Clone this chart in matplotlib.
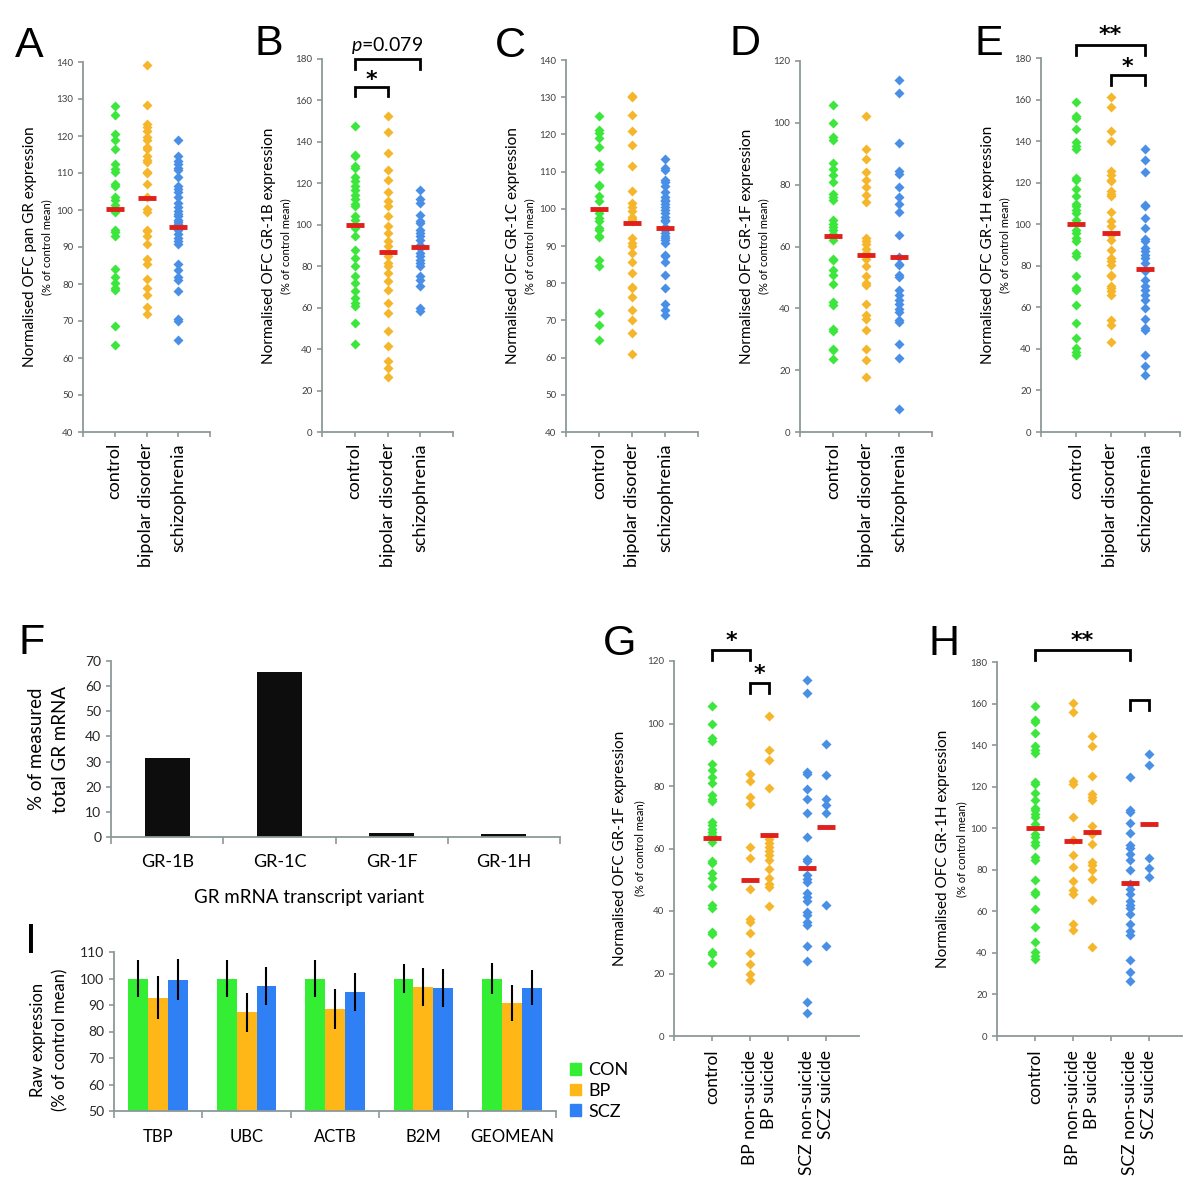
import numpy as np
import matplotlib
matplotlib.use('Agg')
import matplotlib.pyplot as plt
from matplotlib.patches import Patch

W, H = 1200, 1183
plt.rcParams['font.family'] = ['Lato', 'DejaVu Sans']
plt.rcParams['mathtext.fontset'] = 'custom'
plt.rcParams['mathtext.it'] = 'Lato:italic'
plt.rcParams['mathtext.rm'] = 'Lato'

GREEN = '#3de63d'
ORANGE = '#f5b62c'
BLUE = '#4a8fe6'
RED = '#e0201b'
AXC = '#8c9898'
BAR_G, BAR_O, BAR_B = '#33ee33', '#ffb718', '#2f80f5'

groups3 = ['control', 'bipolar disorder', 'schizophrenia']
groups5 = ['control', 'BP non-suicide', 'BP suicide', 'SCZ non-suicide', 'SCZ suicide']

# --- A: pan GR
panA_con = [128.1, 125.6, 120.6, 118.8, 116.4, 112.3, 111.2, 110.3, 107.1, 106.4, 103.5, 102.6,
            101.3, 99.5, 94.7, 94.1, 93.0, 84.1, 81.9, 80.3, 79.0, 78.3, 68.6, 63.4]
panA_bp = [139.1, 128.5, 123.2, 122.4, 121.3, 119.7, 118.8, 117.0, 116.6, 114.6, 113.6, 113.0,
           110.3, 110.0, 107.1, 103.5, 100.4, 99.5, 94.7, 94.2, 92.9, 90.9, 86.8, 85.5, 81.4,
           79.0, 76.9, 73.8, 72.0]
panA_scz = [118.8, 114.5, 113.2, 112.3, 111.4, 110.7, 108.9, 106.5, 105.8, 105.0, 103.5, 101.9,
            100.8, 99.6, 99.0, 98.3, 97.2, 96.8, 96.1, 94.5, 93.6, 92.3, 91.6, 90.9, 85.5, 83.7,
            81.9, 81.0, 78.0, 70.6, 70.0, 64.8]
panA_means = [100.2, 103.3, 95.3]

# --- B: GR-1B
panB_con = [147.5, 133.8, 133.0, 128.2, 127.4, 122.9, 121.0, 118.9, 116.9, 114.5, 112.4, 110.2,
            108.9, 104.4, 102.5, 98.4, 94.4, 88.0, 84.0, 79.9, 75.1, 71.9, 67.9, 64.7, 62.2,
            60.6, 52.6, 42.5]
panB_bp = [152.6, 144.6, 134.6, 126.6, 121.6, 115.6, 111.3, 108.9, 104.1, 99.2, 96.0, 92.0,
           89.6, 86.4, 84.8, 81.6, 79.9, 76.7, 72.7, 68.7, 62.2, 57.4, 48.6, 41.3, 34.1, 30.9, 26.5]
panB_scz = [116.9, 112.4, 110.5, 104.9, 101.7, 100.9, 97.6, 96.0, 94.4, 92.8, 90.4, 88.8, 86.4,
            84.8, 83.2, 81.6, 79.9, 75.1, 73.5, 70.3, 59.8, 58.2]
panB_means = [100.0, 86.8, 89.3]

# --- C: GR-1C
panC_con = [125.0, 121.2, 120.5, 119.0, 116.7, 112.1, 110.6, 106.4, 106.0, 103.5, 102.0, 98.8,
            97.5, 96.6, 94.8, 94.3, 92.7, 92.4, 86.3, 84.5, 72.1, 68.8, 64.8]
panC_bp = [130.3, 130.0, 125.2, 120.8, 117.2, 111.4, 104.8, 101.5, 100.6, 99.3, 97.9, 97.2,
           96.6, 92.1, 90.8, 89.9, 88.1, 85.8, 82.7, 79.1, 78.7, 76.2, 72.7, 70.2, 66.6, 61.0]
panC_scz = [113.4, 110.9, 110.3, 107.8, 107.1, 106.0, 104.4, 103.3, 102.4, 102.0, 101.3, 100.6,
            99.7, 98.8, 97.9, 97.0, 96.6, 95.2, 94.3, 93.4, 92.7, 92.1, 91.5, 90.8, 87.6, 87.2,
            85.8, 82.3, 78.7, 74.5, 72.9, 71.5]
panC_means = [100.0, 96.1, 94.9]

# --- D: GR-1F
panD_con = [105.7, 99.9, 95.4, 94.3, 87.1, 85.2, 83.0, 80.9, 77.1, 76.0, 75.1, 68.5, 67.4, 66.3,
            65.2, 64.2, 62.0, 56.1, 55.5, 52.3, 50.7, 48.0, 42.0, 41.0, 33.4, 32.7, 27.0, 26.4, 23.5]
panD_bp = [102.2, 91.4, 88.4, 84.1, 81.6, 79.4, 76.6, 74.4, 62.9, 61.8, 60.7, 59.3, 57.9, 56.1,
           53.6, 50.3, 48.3, 47.4, 41.5, 37.7, 36.4, 33.1, 26.7, 23.2, 17.8]
panD_scz = [113.7, 109.7, 93.5, 84.3, 83.6, 79.2, 76.0, 73.9, 71.2, 63.8, 56.6, 54.4, 53.9, 50.7,
            50.1, 45.8, 44.2, 42.6, 41.3, 39.9, 38.8, 36.1, 35.6, 28.6, 24.0, 7.5]
panD_means = [63.4, 57.1, 56.6]

# --- E: GR-1H
panE_con = [158.7, 152.3, 151.1, 146.0, 139.4, 137.8, 136.2, 122.3, 121.5, 117.0, 113.5, 109.9,
            108.6, 106.7, 105.4, 102.2, 97.4, 95.8, 93.4, 91.8, 86.2, 84.9, 74.9, 69.3, 68.5,
            61.3, 52.5, 45.2, 40.4, 38.3, 37.2]
panE_bp = [161.1, 156.4, 144.7, 139.9, 125.5, 123.9, 121.5, 120.6, 115.8, 114.7, 113.5, 105.7,
           101.4, 99.0, 95.0, 92.6, 87.8, 83.7, 82.1, 80.5, 75.7, 74.9, 70.1, 69.3, 67.7, 66.1,
           54.1, 51.7, 43.3]
panE_scz = [136.2, 130.8, 125.1, 109.4, 108.6, 103.0, 98.2, 92.9, 91.8, 88.6, 87.0, 85.4, 83.7,
            81.3, 77.3, 73.3, 70.1, 68.5, 66.1, 63.7, 59.7, 54.4, 50.1, 48.9, 37.2, 31.6, 27.3]
panE_means = [100.0, 96.0, 78.3]

# --- F: share of each variant
F_variants = ['GR-1B', 'GR-1C', 'GR-1F', 'GR-1H']
F_share = [31.6, 65.5, 1.6, 1.3]

# --- G: GR-1F split by suicide
panG_bp_non = [83.9, 81.6, 76.5, 74.3, 60.5, 57.0, 47.1, 37.5, 36.5, 33.0, 26.7, 23.1, 19.7, 17.8]
panG_bp_sui = [102.3, 91.4, 88.2, 79.4, 63.1, 61.8, 60.5, 59.1, 57.8, 56.2, 53.5, 50.7, 48.7,
               47.7, 41.5]
panG_scz_non = [113.8, 109.8, 84.5, 83.7, 79.1, 75.9, 71.4, 63.7, 56.7, 56.0, 51.4, 50.3, 49.3,
                45.8, 44.5, 43.1, 39.7, 38.6, 36.5, 35.6, 28.7, 24.0, 10.9, 7.4]
panG_scz_sui = [93.3, 83.6, 75.9, 74.0, 71.4, 41.8, 28.7]
panG_means = [63.4, 50.0, 64.2, 53.9, 66.9]

# --- H: GR-1H split by suicide
panH_bp_non = [160.3, 155.9, 122.6, 121.1, 105.4, 94.5, 87.0, 81.3, 74.6, 70.1, 68.2, 53.7, 51.2]
panH_bp_sui = [144.4, 139.4, 125.1, 116.3, 115.0, 113.4, 100.9, 97.4, 92.2, 83.7, 82.5, 80.1,
               75.7, 65.6, 42.8]
panH_scz_non = [124.7, 108.6, 107.8, 102.7, 97.7, 91.8, 90.6, 87.8, 84.5, 80.1, 73.3, 70.9, 68.2,
                65.0, 62.9, 61.8, 58.9, 53.7, 50.5, 48.5, 36.4, 30.8, 26.5]
panH_scz_sui = [135.9, 130.3, 85.7, 81.0, 76.5]
panH_means = [100.0, 93.8, 98.4, 73.4, 101.9]

# --- I: reference genes
I_genes = ['TBP', 'UBC', 'ACTB', 'B2M', 'GEOMEAN']
I_groups = ['CON', 'BP', 'SCZ']
I_con = [100, 100, 100, 100, 100]
I_bp = [92.8, 87.2, 88.5, 96.8, 90.8]
I_scz = [99.6, 97.2, 94.9, 96.3, 96.6]
I_con_err = [6.9, 7.0, 7.0, 5.4, 5.9]
I_bp_err = [8.1, 7.5, 7.5, 7.1, 6.8]
I_scz_err = [7.8, 7.3, 7.0, 7.2, 6.7]

fig = plt.figure(figsize=(W / 100, H / 100), dpi=100)


def add_ax(x0, y0, x1, y1):
    return fig.add_axes([x0 / W, 1 - y1 / H, (x1 - x0) / W, (y1 - y0) / H])


def style(ax, fs=7, lc='#404040'):
    for s in ['top', 'right']:
        ax.spines[s].set_visible(False)
    for s in ['left', 'bottom']:
        ax.spines[s].set_color(AXC)
        ax.spines[s].set_linewidth(1.3)
    ax.tick_params(colors=AXC, labelcolor=lc, labelsize=fs, length=3.5, width=1.2)
    ax.xaxis.remove_overlapping_locs = False


def letter(x, y, s):
    fig.text(x / W, 1 - y / H, s, fontsize=31, family='Liberation Sans',
             ha='left', va='baseline')


def ylabels(ax_x, yc, main, sub=None, dx_main=53, dx_sub=36, fs=11, fs_sub=8):
    fig.text((ax_x - dx_main) / W, 1 - yc / H, main, rotation=90, ha='center',
             va='center', fontsize=fs)
    if sub:
        fig.text((ax_x - dx_sub) / W, 1 - yc / H, sub, rotation=90, ha='center',
                 va='center', fontsize=fs_sub)


def bracket(ax, x1, x2, ytop, yleg, txt=None, ty=None, fs=13, star=True):
    ax.plot([x1, x1, x2, x2], [yleg, ytop, ytop, yleg], color='black', lw=2,
            clip_on=False, solid_joinstyle='miter')
    if txt:
        kw = dict(family='DejaVu Sans', fontsize=16, fontweight='bold') if star else dict(fontsize=fs)
        ax.text((x1 + x2) / 2, ty, txt, ha='center', va='center', clip_on=False, **kw)


def dot_panel(box, xs, series, means, colors, ylim, ystep, labels, xmax, label_fs=13, pad=8):
    ax = add_ax(*box)
    style(ax)
    for x, vals, c in zip(xs, series, colors):
        ax.plot([x] * len(vals), vals, 'D', color=c, ms=5.6, mec='none', ls='none',
                clip_on=False, zorder=2)
    ax.plot(xs, means, '_', color=RED, ms=13, mew=3.5, ls='none', zorder=3)
    ax.set_ylim(*ylim)
    ax.set_yticks(np.arange(ylim[0], ylim[1] + 1, ystep))
    ax.set_xlim(0, xmax)
    ax.set_xticks(range(0, 5))
    ax.set_xticklabels([])
    ax.set_xticks(xs, labels, minor=True)
    ax.tick_params(axis='x', which='minor', length=0, labelrotation=90,
                   labelsize=label_fs, labelcolor='black', pad=pad)
    return ax


cols3 = [GREEN, ORANGE, BLUE]
cols5 = [GREEN, ORANGE, ORANGE, BLUE, BLUE]
x3 = [1, 2, 3]
x5 = [1, 2, 2.5, 3.5, 4]
sub = '(% of control mean)'

axA = dot_panel((83, 62, 210, 432), x3, [panA_con, panA_bp, panA_scz], panA_means, cols3,
                (40, 140), 10, groups3, 4)
ylabels(83, 247, 'Normalised OFC pan GR expression', sub)
letter(15, 57, 'A')

axB = dot_panel((322, 59, 453, 432), x3, [panB_con, panB_bp, panB_scz], panB_means, cols3,
                (0, 180), 20, groups3, 4)
ylabels(322, 246, 'Normalised OFC GR-1B expression', sub)
letter(255, 55, 'B')
bracket(axB, 1, 2, 166.5, 162.0, '*', 170.0)
bracket(axB, 1, 3, 180.0, 175.2, r'$\mathit{p}$=0.079', 186.5, fs=14, star=False)

axC = dot_panel((566, 60, 698, 432), x3, [panC_con, panC_bp, panC_scz], panC_means, cols3,
                (40, 140), 10, groups3, 4)
ylabels(566, 246, 'Normalised OFC GR-1C expression', sub)
letter(495, 57, 'C')

axD = dot_panel((800, 61, 932, 432), x3, [panD_con, panD_bp, panD_scz], panD_means, cols3,
                (0, 120), 20, groups3, 4)
ylabels(800, 246, 'Normalised OFC GR-1F expression', sub)
letter(730, 55, 'D')

axE = dot_panel((1041, 58, 1180, 432), x3, [panE_con, panE_bp, panE_scz], panE_means, cols3,
                (0, 180), 20, groups3, 4)
ylabels(1041, 245, 'Normalised OFC GR-1H expression', sub)
letter(975, 55, 'E')
bracket(axE, 1, 3, 186.1, 181.3, '**', 191.0)
bracket(axE, 2, 3, 172.0, 167.2, '*', 175.5)

# --- F
axF = add_ax(111, 661, 560, 837)
style(axF, fs=10, lc='#262626')
fx = np.arange(len(F_variants)) + 0.5
axF.bar(fx, F_share, width=0.40, color='#0d0d0d')
axF.set_ylim(0, 70)
axF.set_yticks(range(0, 71, 10))
axF.set_xlim(0, 4)
axF.set_xticks(range(0, 5))
axF.set_xticklabels([])
axF.set_xticks(fx, F_variants, minor=True)
axF.tick_params(axis='x', which='minor', length=0, labelsize=13, labelcolor='black', pad=12)
axF.tick_params(axis='x', which='major', length=5)
fig.text(36 / W, 1 - 749 / H, '% of measured', rotation=90, ha='center', va='center', fontsize=13.5)
fig.text(61 / W, 1 - 749 / H, 'total GR mRNA', rotation=90, ha='center', va='center', fontsize=13.5)
fig.text(309 / W, 1 - 903 / H, 'GR mRNA transcript variant', ha='center', va='baseline', fontsize=13.5)
letter(19, 654, 'F')

# --- G
axG = dot_panel((674, 661, 859, 1036), x5,
                [panD_con, panG_bp_non, panG_bp_sui, panG_scz_non, panG_scz_sui],
                panG_means, cols5, (0, 120), 20, groups5, 4.86, label_fs=12.5, pad=10)
ylabels(674, 848, 'Normalised OFC GR-1F expression', sub, dx_main=54, dx_sub=34)
letter(603, 655, 'G')
bracket(axG, 1, 2, 123.4, 120.2, '*', 126.3)
bracket(axG, 2, 2.5, 113.1, 109.8, '*', 115.8)

# --- H
axH = dot_panel((997, 662, 1182, 1036), x5,
                [panE_con, panH_bp_non, panH_bp_sui, panH_scz_non, panH_scz_sui],
                panH_means, cols5, (0, 180), 20, groups5, 4.86, label_fs=12.5, pad=10)
ylabels(997, 849, 'Normalised OFC GR-1H expression', sub, dx_main=54, dx_sub=35)
letter(928, 655, 'H')
bracket(axH, 1, 3.5, 185.6, 180.8, '**', 190.0)
bracket(axH, 3.5, 4, 161.6, 156.7)

# --- I
axI = add_ax(114, 952, 556, 1111)
style(axI, fs=10, lc='#262626')
ix = np.arange(len(I_genes)) + 0.5
bw = 0.225
for off, vals, errs, c in [(-bw, I_con, I_con_err, BAR_G), (0, I_bp, I_bp_err, BAR_O),
                            (bw, I_scz, I_scz_err, BAR_B)]:
    axI.bar(ix + off, np.array(vals) - 50, bottom=50, width=bw, color=c)
    axI.errorbar(ix + off, vals, yerr=errs, fmt='none', ecolor='black', elinewidth=1.5, capsize=0)
axI.set_ylim(50, 110)
axI.set_yticks(range(50, 111, 10))
axI.set_xlim(0, 5)
axI.set_xticks(range(0, 6))
axI.set_xticklabels([])
axI.set_xticks(ix, I_genes, minor=True)
axI.tick_params(axis='x', which='minor', length=0, labelsize=12, labelcolor='black', pad=13)
axI.tick_params(axis='x', which='major', length=5)
fig.text(38 / W, 1 - 1040 / H, 'Raw expression', rotation=90, ha='center', va='center', fontsize=12)
fig.text(60 / W, 1 - 1040 / H, '(% of control mean)', rotation=90, ha='center', va='center', fontsize=12)
letter(25, 953, 'I')

handles = [Patch(color=c, label=l) for c, l in zip([BAR_G, BAR_O, BAR_B], I_groups)]
fig.legend(handles=handles, loc='center left', bbox_to_anchor=(570 / W, 1 - 1091 / H),
           frameon=False, fontsize=13, handlelength=0.6, handleheight=0.6,
           handletextpad=0.4, labelspacing=0.25, borderpad=0, borderaxespad=0)

fig.savefig('out.png', dpi=100)
